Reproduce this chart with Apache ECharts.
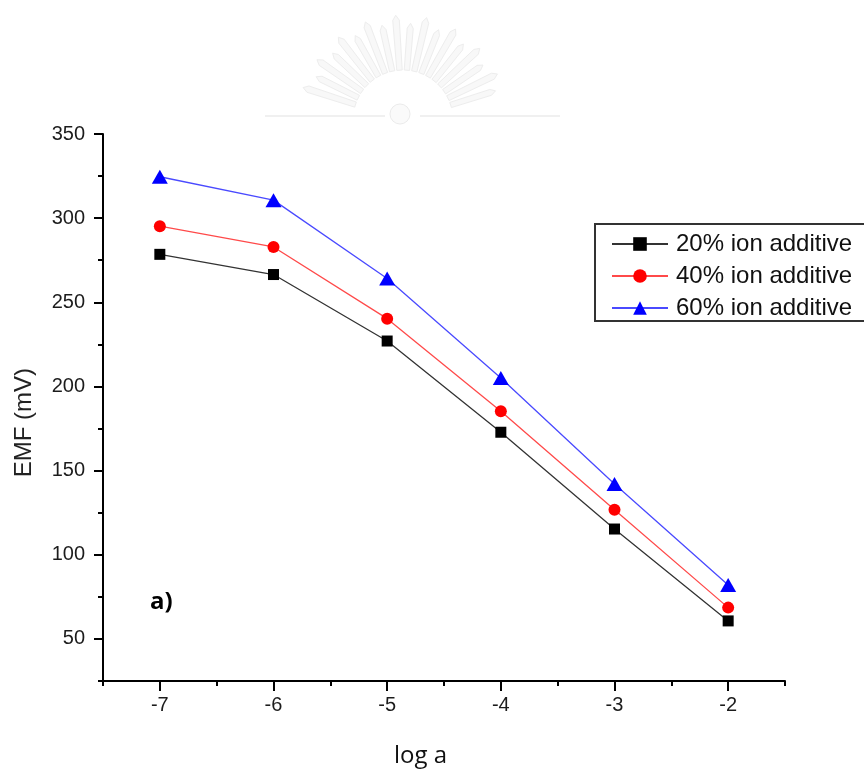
<!DOCTYPE html>
<html>
<head>
<meta charset="utf-8">
<script src="https://cdn.jsdelivr.net/npm/echarts@6/dist/echarts.min.js"></script>
<style>
  html, body { margin: 0; padding: 0; background: #fff; }
  #chart { width: 864px; height: 773px; }
</style>
</head>
<body>
<div id="chart"></div>
<script>
// log activity values on the x axis
const logA = [-7, -6, -5, -4, -3, -2];
// EMF readings (mV) for each additive loading
const emf20 = [278.5, 266.5, 227, 172.8, 115.3, 60.7];
const emf40 = [295.2, 282.9, 240.3, 185.3, 126.8, 68.6];
const emf60 = [324.6, 310.7, 264.1, 205, 142.1, 82.1];
const seriesNames = ['20% ion additive', '40% ion additive', '60% ion additive'];
// labelled ticks
const xTicks = [-7, -6, -5, -4, -3, -2];
const yTicks = [50, 100, 150, 200, 250, 300, 350];

const pairs = arr => logA.map((x, i) => [x, arr[i]]);

const chart = echarts.init(document.getElementById('chart'));

// faint emblem above the plot
const emblem = [];
const cx = 403, cy = 120;
for (let i = 0; i < 18; i++) {
  const a = (162 - i * 8.5) * Math.PI / 180;
  const r0 = 50, r1 = i % 2 ? 92 : 100;
  const w = 0.06;
  const p = (r, d) => [cx + r * Math.cos(a + d), cy - r * Math.sin(a + d)];
  emblem.push({
    type: 'polygon', silent: true,
    shape: { points: [p(r0, -w * 0.9), p(r1, -w * 0.55), p(r1 + 5, 0), p(r1, w * 0.55), p(r0, w * 0.9)] },
    style: { fill: '#f8f8f8', stroke: '#ededed', lineWidth: 1 }
  });
}
emblem.push({ type: 'circle', silent: true, shape: { cx: 400, cy: 114, r: 10 }, style: { fill: '#fafafa', stroke: '#ebebeb', lineWidth: 1 } });
emblem.push({ type: 'line', silent: true, shape: { x1: 265, y1: 116, x2: 385, y2: 116 }, style: { stroke: '#f0f0f0', lineWidth: 2 } });
emblem.push({ type: 'line', silent: true, shape: { x1: 420, y1: 116, x2: 560, y2: 116 }, style: { stroke: '#f0f0f0', lineWidth: 2 } });

const axisLineStyle = { show: true, lineStyle: { color: '#000', width: 2 } };
const tickFont = { fontFamily: 'Liberation Sans, Arial', fontSize: 20, color: '#1c1c1c' };

chart.setOption({
  animation: false,
  backgroundColor: '#fff',
  grid: { left: 103, right: 79, top: 134, bottom: 92, containLabel: false },
  legend: {
    orient: 'vertical',
    left: 595,
    top: 224,
    padding: [8, 60, 1, 16],
    itemGap: 8,
    itemWidth: 56,
    itemHeight: 17,
    borderColor: '#333',
    borderWidth: 2,
    borderRadius: 0,
    textStyle: { fontFamily: 'Liberation Sans, Arial', fontSize: 24, color: '#111', lineHeight: 24, padding: [0, 0, 0, 3] },
    data: seriesNames
  },
  xAxis: [
    {
      type: 'value', min: -7.5, max: -1.5,
      axisLine: axisLineStyle,
      axisTick: { show: true, customValues: xTicks, length: 10, lineStyle: { color: '#000', width: 2 } },
      axisLabel: Object.assign({ customValues: xTicks, margin: 14 }, tickFont),
      splitLine: { show: false }
    },
    {
      type: 'value', min: -7.5, max: -1.5, interval: 0.5, position: 'bottom',
      axisLine: { show: false },
      axisTick: { show: true, length: 5, lineStyle: { color: '#000', width: 2 } },
      axisLabel: { show: false },
      splitLine: { show: false }
    }
  ],
  yAxis: [
    {
      type: 'value', min: 25, max: 350,
      axisLine: axisLineStyle,
      axisTick: { show: true, customValues: yTicks, length: 9, lineStyle: { color: '#000', width: 2 } },
      axisLabel: Object.assign({ customValues: yTicks, margin: 18 }, tickFont),
      splitLine: { show: false }
    },
    {
      type: 'value', min: 25, max: 350, interval: 25, position: 'left',
      axisLine: { show: false },
      axisTick: { show: true, length: 5, lineStyle: { color: '#000', width: 2 } },
      axisLabel: { show: false },
      splitLine: { show: false }
    }
  ],
  graphic: [
    ...emblem,
    {
      type: 'text', left: 12, top: 368, rotation: Math.PI / 2,
      originX: 0, originY: 0,
      style: { text: 'EMF (mV)', fontFamily: 'Liberation Sans, Arial', fontSize: 24, fill: '#222' }
    },
    {
      type: 'text', left: 394, top: 744,
      style: { text: 'log a', fontFamily: 'Open Sans', fontSize: 24, fill: '#111' }
    },
    {
      type: 'text', left: 150, top: 590,
      style: { text: 'a)', fontFamily: 'Open Sans', fontWeight: 'bold', fontSize: 24, fill: '#000' }
    }
  ],
  series: [
    {
      name: seriesNames[0], type: 'line', data: pairs(emf20),
      symbol: 'rect', symbolSize: 11,
      itemStyle: { color: '#000' },
      lineStyle: { color: '#333', width: 1.3 }
    },
    {
      name: seriesNames[1], type: 'line', data: pairs(emf40),
      symbol: 'circle', symbolSize: 12,
      itemStyle: { color: '#ff0000' },
      lineStyle: { color: '#ff4a4a', width: 1.3 }
    },
    {
      name: seriesNames[2], type: 'line', data: pairs(emf60),
      symbol: 'triangle', symbolSize: [16, 14],
      itemStyle: { color: '#0000ff' },
      lineStyle: { color: '#4a4aff', width: 1.3 }
    }
  ]
});
</script>
</body>
</html>
